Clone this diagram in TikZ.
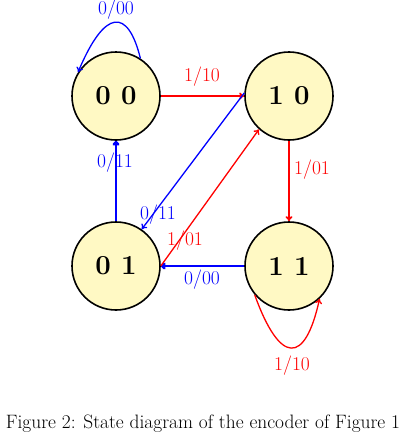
\documentclass[tikz,border=0pt]{standalone}
\usetikzlibrary{arrows.meta}
\definecolor{stfill}{RGB}{255,249,196}
\begin{document}
\begin{tikzpicture}[x=1pt,y=-1pt,
  state/.style={circle,draw=black,line width=1.6pt,fill=stfill,minimum size=88pt,inner sep=0pt,font=\fontsize{27.5}{30}\selectfont\bfseries},
  lab/.style={font=\fontsize{19.5}{22}\selectfont,inner sep=1pt},
  arr/.style={-{To[length=5pt,width=7pt]}},
  thinedge/.style={arr,line width=1.3pt},
  midedge/.style={arr,line width=1.8pt},
  thickedge/.style={arr,line width=2.6pt}]
\useasboundingbox (0,0) rectangle (405,439);
\node[state] (s00) at (116,96) {0 0};
\node[state] (s10) at (289,96) {1 0};
\node[state] (s01) at (116,266) {0 1};
\node[state] (s11) at (289,266) {1 1};
% edges
\draw[midedge,red] (s00) -- (s10);
\draw[midedge,red] (s10) -- (s11);
\draw[thickedge,blue] (s01) -- (s00);
\draw[thickedge,blue] (s11) -- (s01);
\draw[thinedge,blue] (s10.176) -- (s01.55);
\draw[thinedge,red] (s01.east) -- (s10.228);
\draw[thinedge,blue] (s00.57) .. controls (128,8) and (105,8) .. (s00.148);
\draw[thinedge,red] (s11.220) .. controls (280,365) and (305,365) .. (s11.313);
% labels
\node[lab,text=blue] (l1) at (116,10) {0/00};
\node[lab,text=red] (l2) at (202,77) {1/10};
\node[lab,text=red] (l3) at (312,170) {1/01};
\node[lab,text=blue] (l4) at (115,163) {0/11};
\node[lab,text=blue] (l5) at (158,215) {0/11};
\node[lab,text=red] (l6) at (185,241) {1/01};
\node[lab,text=blue] (l7) at (202,280) {0/00};
\node[lab,text=red] (l8) at (292,366) {1/10};
\node[font=\fontsize{19.4}{22}\selectfont] (cap) at (203,424) {Figure 2: State diagram of the encoder of Figure 1};
\end{tikzpicture}
\end{document}
